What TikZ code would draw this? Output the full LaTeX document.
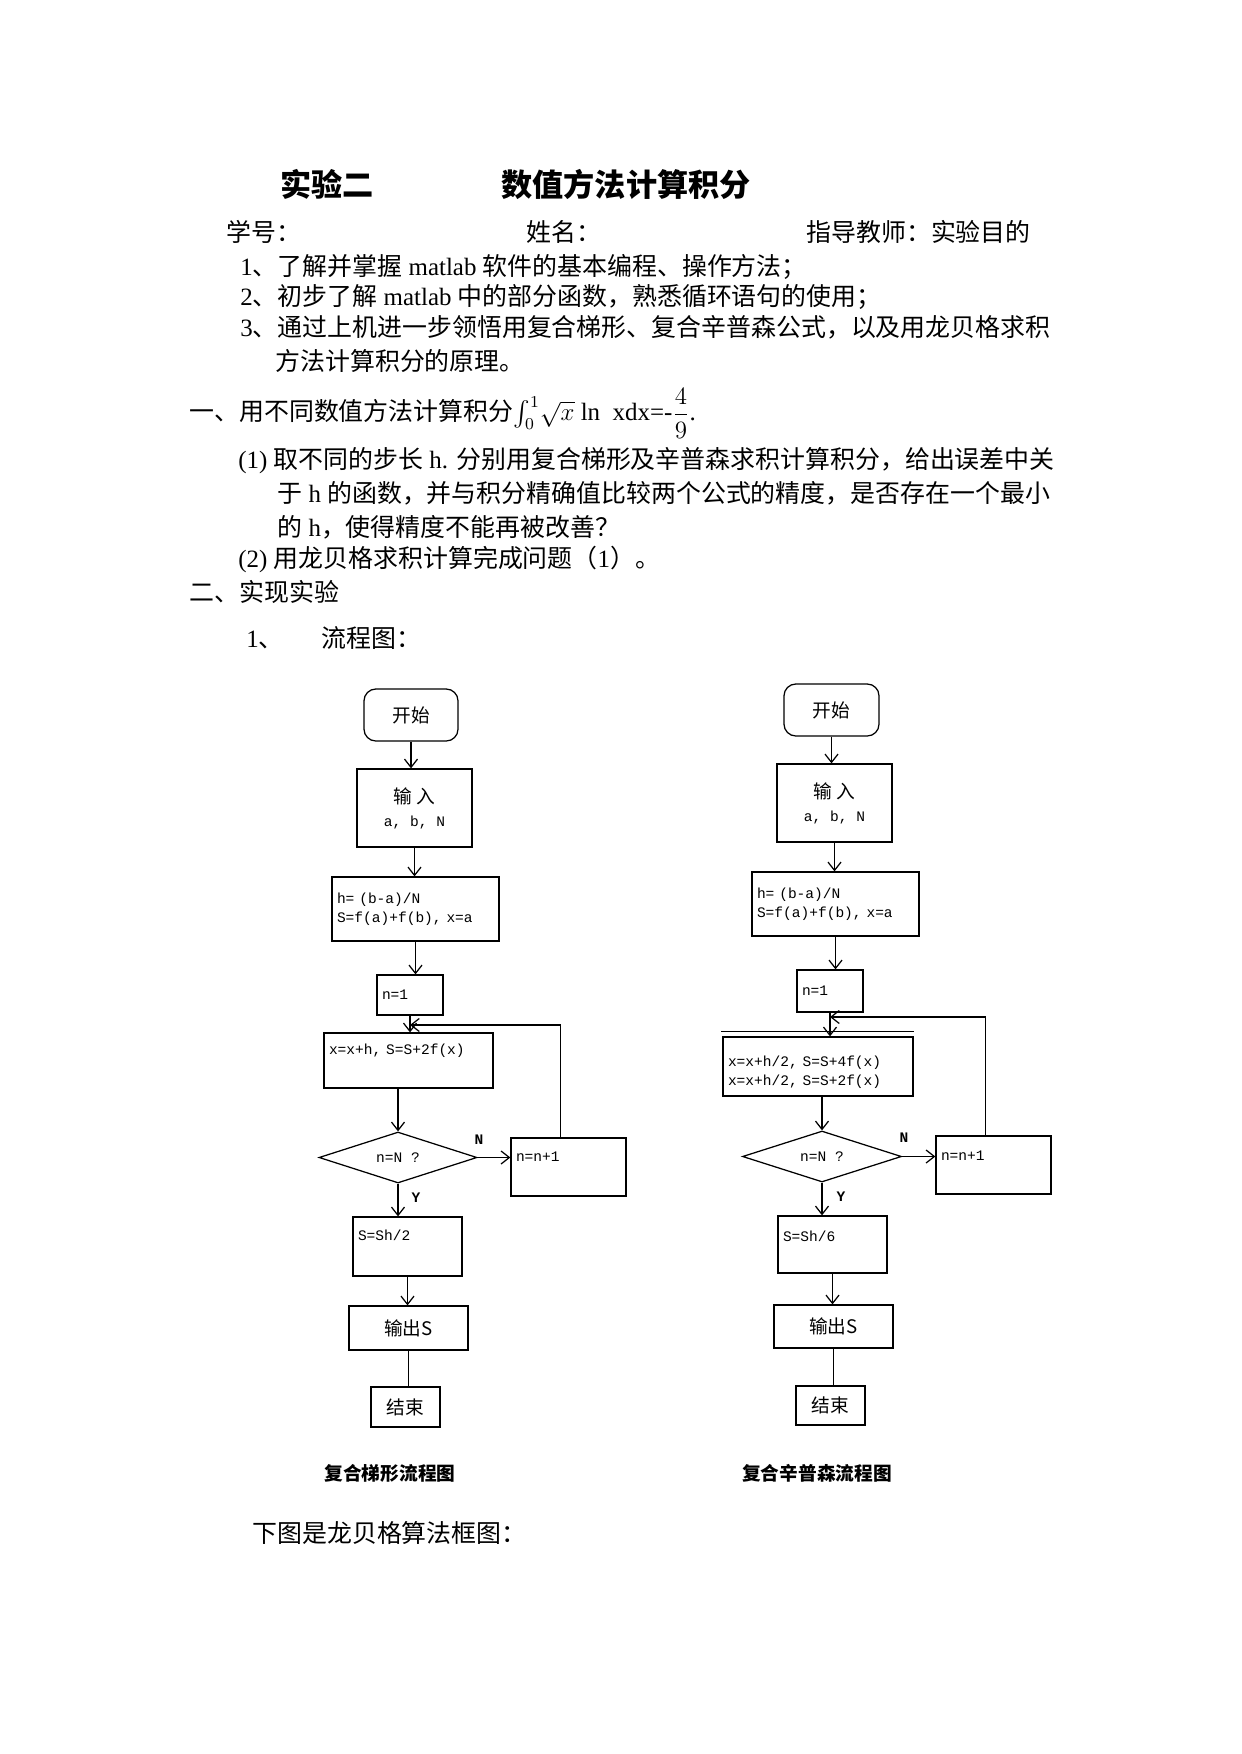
\documentclass[tikz,border=0pt]{standalone}
\usepackage{fontspec}
\setmainfont{Liberation Serif}
\newfontfamily\cjk{Noto Sans CJK SC}
\newfontfamily\mono{Liberation Mono}
\usepackage{amsmath}
\usetikzlibrary{positioning,arrows,arrows.meta,calc,shapes}
\newcommand{\zh}[1]{{\cjk #1}}
\newcommand{\mtt}[1]{{\mono\fontsize{7}{9}\selectfont #1}}
\def\pxu{0.16922mm}
\tikzset{
    txt/.style={
        anchor=base west,
        inner sep=0pt,
        font=\fontsize{12}{15}\selectfont
    },
    heading/.style={
        anchor=base west,
        inner sep=0pt,
        font=\cjk\bfseries\fontsize{15}{18}\selectfont
    },
    startbox/.style={
        rectangle,
        draw,
        rounded corners=2mm,
        line width=0.6pt,
        font=\cjk\fontsize{9}{11}\selectfont
    },
    iobox/.style={
        rectangle,
        draw,
        line width=0.6pt,
        align=center,
        font=\cjk\fontsize{9}{11}\selectfont
    },
    procbox/.style={
        rectangle,
        draw,
        line width=0.6pt,
        inner xsep=0.85mm,
        align=left,
        font=\mono\fontsize{7}{9}\selectfont
    },
    decision/.style={
        diamond,
        draw,
        line width=0.6pt,
        inner sep=0pt,
        aspect=3,
        font=\mono\fontsize{7}{9}\selectfont
    },
    lab/.style={
        font=\mono\bfseries\fontsize{7}{9}\selectfont
    },
    figcap/.style={
        font=\cjk\bfseries\fontsize{9}{11}\selectfont
    },
    arrow/.style={
        ->,
        >={Straight Barb[length=1.4mm,width=2.2mm]},
        line width=0.6pt
    },
    link/.style={
        line width=0.6pt
    }
}
\begin{document}
\begin{tikzpicture}[x=0.16922mm, y=-0.16922mm]
    \useasboundingbox (0,0) rectangle (1241,1754);

    % header and task text
    \node[heading] (ttl1) at (280,197) {实验二};
    \node[heading] (ttl2) at (501,197) {数值方法计算积分};
    \node[txt] (sid) at (226,242) {\zh{学号：}};
    \node[txt] (sname) at (526,242) {\zh{姓名：}};
    \node[txt] (steach) at (806,242) {\zh{指导教师：实验目的}};
    \node[txt] (aim1) at (240,276) {1\zh{、了解并掌握} matlab \zh{软件的基本编程、操作方法；}};
    \node[txt] (aim2) at (240,306) {2\zh{、初步了解} matlab \zh{中的部分函数，熟悉循环语句的使用；}};
    \node[txt] (aim3) at (240,337) {3\zh{、通过上机进一步领悟用复合梯形、复合辛普森公式，以及用龙贝格求积}};
    \node[txt] (aim3b) at (275,371) {\zh{方法计算积分的原理。}};
    \node[txt] (task) at (189,421) {\zh{一、用不同数值方法计算积分}$\int_0^1\!\sqrt{x}$ ln\ \ xdx=-$\dfrac{4}{9}$.};
    \node[txt] (q1) at (238,469) {(1) \zh{取不同的步长} h. \zh{分别用复合梯形及辛普森求积计算积分，给出误差中关}};
    \node[txt] (q1b) at (277,502) {\zh{于} h \zh{的函数，并与积分精确值比较两个公式的精度，是否存在一个最小}};
    \node[txt] (q1c) at (277,536) {\zh{的} h\zh{，使得精度不能再被改善？}};
    \node[txt] (q2) at (238,567) {(2) \zh{用龙贝格求积计算完成问题（}1\zh{）。}};
    \node[txt] (sec2) at (189,601) {\zh{二、实现实验}};
    \node[txt] (item1) at (246,647) {1\zh{、}};
    \node[txt] (item1b) at (321,647) {\zh{流程图：}};
    \node[txt] (romb) at (252,1542) {\zh{下图是龙贝格算法框图：}};

    % composite trapezoid chart
    \node[startbox, minimum width=94*\pxu, minimum height=52*\pxu] (start1) at (411,715) {开始};
    \node[iobox, minimum width=115*\pxu, minimum height=78*\pxu] (input1) at (414.5,808) {输\ 入\\\mtt{a, b, N}};
    \node[procbox, text width=157*\pxu, minimum height=64*\pxu] (init1) at (415.5,909) {h= (b-a)/N\\S=f(a)+f(b), x=a};
    \node[procbox, text width=56*\pxu, minimum height=40*\pxu] (cnt1) at (410,995) {n=1};
    \node[procbox, text width=159*\pxu, minimum height=55*\pxu, text depth=11pt] (body1) at (408.5,1060.5) {x=x+h, S=S+2f(x)};
    \node[decision, minimum width=158*\pxu, minimum height=51*\pxu] (test1) at (398,1157.5) {n=N ?};
    \node[procbox, text width=105*\pxu, minimum height=58*\pxu, text depth=10pt] (incr1) at (568.5,1167) {n=n+1};
    \node[procbox, text width=99*\pxu, minimum height=59*\pxu, text depth=11pt] (scale1) at (407.5,1246.5) {S=Sh/2};
    \node[iobox, minimum width=119*\pxu, minimum height=44*\pxu] (out1) at (408.5,1328) {输出S};
    \node[iobox, minimum width=69*\pxu, minimum height=40*\pxu] (stop1) at (405.5,1407) {结束};
    \node[lab] (no1) at (479,1140) {N};
    \node[lab] (yes1) at (416,1198) {Y};
    \node[figcap] (cap1) at (390,1473) {复合梯形流程图};
    \coordinate (join1) at (410,1025);

    \draw[arrow] (start1.south) -- (start1.south |- input1.north);
    \draw[arrow] (input1.south) -- (input1.south |- init1.north);
    \draw[arrow] (init1.south) -- (init1.south |- cnt1.north);
    \draw[arrow] (cnt1.south) -- (cnt1.south |- body1.north);
    \draw[arrow] (test1.north |- body1.south) -- (test1.north);
    \draw[arrow] (test1.east) -- (test1.east -| incr1.west);
    \draw[arrow] ($(incr1.north)+(-8,0)$) |- (join1);
    \draw[arrow] (test1.south) -- (test1.south |- scale1.north);
    \draw[arrow] (scale1.south) -- (scale1.south |- out1.north);
    \draw[link] (out1.south) -- (out1.south |- stop1.north);

    % composite Simpson chart
    \node[startbox, minimum width=95*\pxu, minimum height=52*\pxu] (start2) at (831.5,710) {开始};
    \node[iobox, minimum width=115*\pxu, minimum height=78*\pxu] (input2) at (834.5,803) {输\ 入\\\mtt{a, b, N}};
    \node[procbox, text width=157*\pxu, minimum height=64*\pxu] (init2) at (835.5,904) {h= (b-a)/N\\S=f(a)+f(b), x=a};
    \node[procbox, text width=56*\pxu, minimum height=42*\pxu] (cnt2) at (830,991) {n=1};
    \node[procbox, text width=180*\pxu, minimum height=59*\pxu, text depth=5pt] (body2) at (818,1066.5) {x=x+h/2, S=S+4f(x)\\x=x+h/2, S=S+2f(x)};
    \node[decision, minimum width=159*\pxu, minimum height=51*\pxu] (test2) at (822,1156.5) {n=N ?};
    \node[procbox, text width=105*\pxu, minimum height=58*\pxu, text depth=9pt] (incr2) at (993.5,1165) {n=n+1};
    \node[procbox, text width=99*\pxu, minimum height=57*\pxu, text depth=8pt] (scale2) at (832.5,1244.5) {S=Sh/6};
    \node[iobox, minimum width=119*\pxu, minimum height=43*\pxu] (out2) at (833.5,1326.5) {输出S};
    \node[iobox, minimum width=69*\pxu, minimum height=39*\pxu] (stop2) at (830.5,1405.5) {结束};
    \node[lab] (no2) at (904,1138) {N};
    \node[lab] (yes2) at (841,1197) {Y};
    \node[figcap] (cap2) at (817,1473) {复合辛普森流程图};
    \coordinate (join2) at (830,1017);

    \draw[link] ($(body2.north west)+(-1,-5)$) -- ($(body2.north east)+(0,-5)$);
    \draw[arrow] (start2.south) -- (start2.south |- input2.north);
    \draw[arrow] (input2.south) -- (input2.south |- init2.north);
    \draw[arrow] (init2.south) -- (init2.south |- cnt2.north);
    \draw[arrow] (cnt2.south) -- (cnt2.south |- body2.north);
    \draw[arrow] (test2.north |- body2.south) -- (test2.north);
    \draw[arrow] (test2.east) -- (test2.east -| incr2.west);
    \draw[arrow] ($(incr2.north)+(-8,0)$) |- (join2);
    \draw[arrow] (test2.south) -- (test2.south |- scale2.north);
    \draw[arrow] (scale2.south) -- (scale2.south |- out2.north);
    \draw[link] (out2.south) -- (out2.south |- stop2.north);
\end{tikzpicture}
\end{document}
